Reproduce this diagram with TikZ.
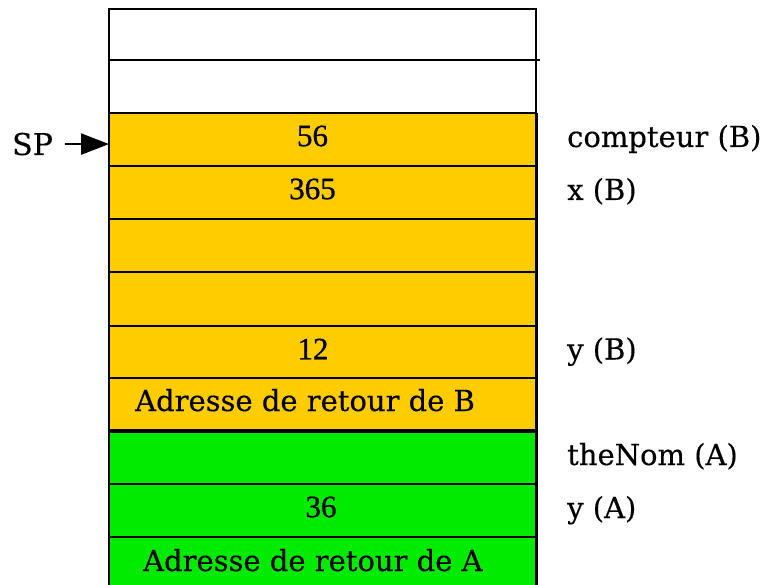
\documentclass[tikz,border=0pt]{standalone}
\usepackage{fontspec}
\setmainfont[FakeBold=0.3]{DejaVu Serif}
\newfontfamily\numfont[FakeBold=0.8]{Liberation Serif}
\usetikzlibrary{arrows.meta}
\definecolor{stackyellow}{RGB}{255,204,0}
\definecolor{stackgreen}{RGB}{0,235,0}
\begin{document}
\begin{tikzpicture}[x=1pt,y=-1pt,
  cell/.style={draw=black, line width=2pt, minimum width=427pt, inner sep=0pt, outer sep=0pt, anchor=north west},
  ycell/.style={cell, fill=stackyellow},
  gcell/.style={cell, fill=stackgreen},
  val/.style={font=\numfont\fontsize{31}{34}\selectfont, inner sep=0pt},
  lbl/.style={font=\fontsize{29}{32}\selectfont, inner sep=0pt, anchor=base west},
  ptr/.style={-{Triangle[length=28pt,width=21pt]}, line width=2.4pt}]
\clip (0,0) rectangle (763,585);
\useasboundingbox (0,0) rectangle (763,585);
% white cells
\node[cell, minimum height=51pt] (c1) at (109,9) {};
\node[cell, minimum height=53pt] (c2) at (109,60) {};
% yellow frame (B)
\node[ycell, minimum height=53pt] (y1) at (109,113) {};
\node[ycell, minimum height=53pt] (y2) at (109,166) {};
\node[ycell, minimum height=53pt] (y3) at (109,219) {};
\node[ycell, minimum height=54pt] (y4) at (109,272) {};
\node[ycell, minimum height=52pt] (y5) at (109,326) {};
\node[ycell, minimum height=51.5pt] (y6) at (109,378) {};
% green frame (A)
\node[gcell, minimum height=52.5pt] (g1) at (109,431.5) {};
\node[gcell, minimum height=53pt] (g2) at (109,484) {};
\node[gcell, minimum height=60pt] (g3) at (109,537) {};
% edges
\draw[line width=2pt] (c1.south east) -- ++(4,0);
\draw[line width=3pt] (y1.north east) -- (g3.south east);
% values
\node[val] (v56) at (312.5,136) {56};
\node[val] (v365) at (312.5,189) {365};
\node[val] (v12) at (313,349) {12};
\node[val] (v36) at (321,507) {36};
\node[lbl] (retB) at (135,411) {Adresse de retour de B};
\node[lbl] (retA) at (143,571) {Adresse de retour de A};
% side labels
\node[lbl] (lcompteur) at (567,147) {compteur (B)};
\node[lbl] (lxB) at (567,200) {x (B)};
\node[lbl] (lyB) at (567,359.5) {y (B)};
\node[lbl] (ltheNom) at (567,465) {theNom (A)};
\node[lbl] (lyA) at (567,518) {y (A)};
% stack pointer
\node[lbl, font=\fontsize{30}{33}\selectfont] (sp) at (12,155) {SP};
\draw[ptr] ([xshift=12pt]sp.east) -- (sp.east -| y1.west);
\end{tikzpicture}
\end{document}
